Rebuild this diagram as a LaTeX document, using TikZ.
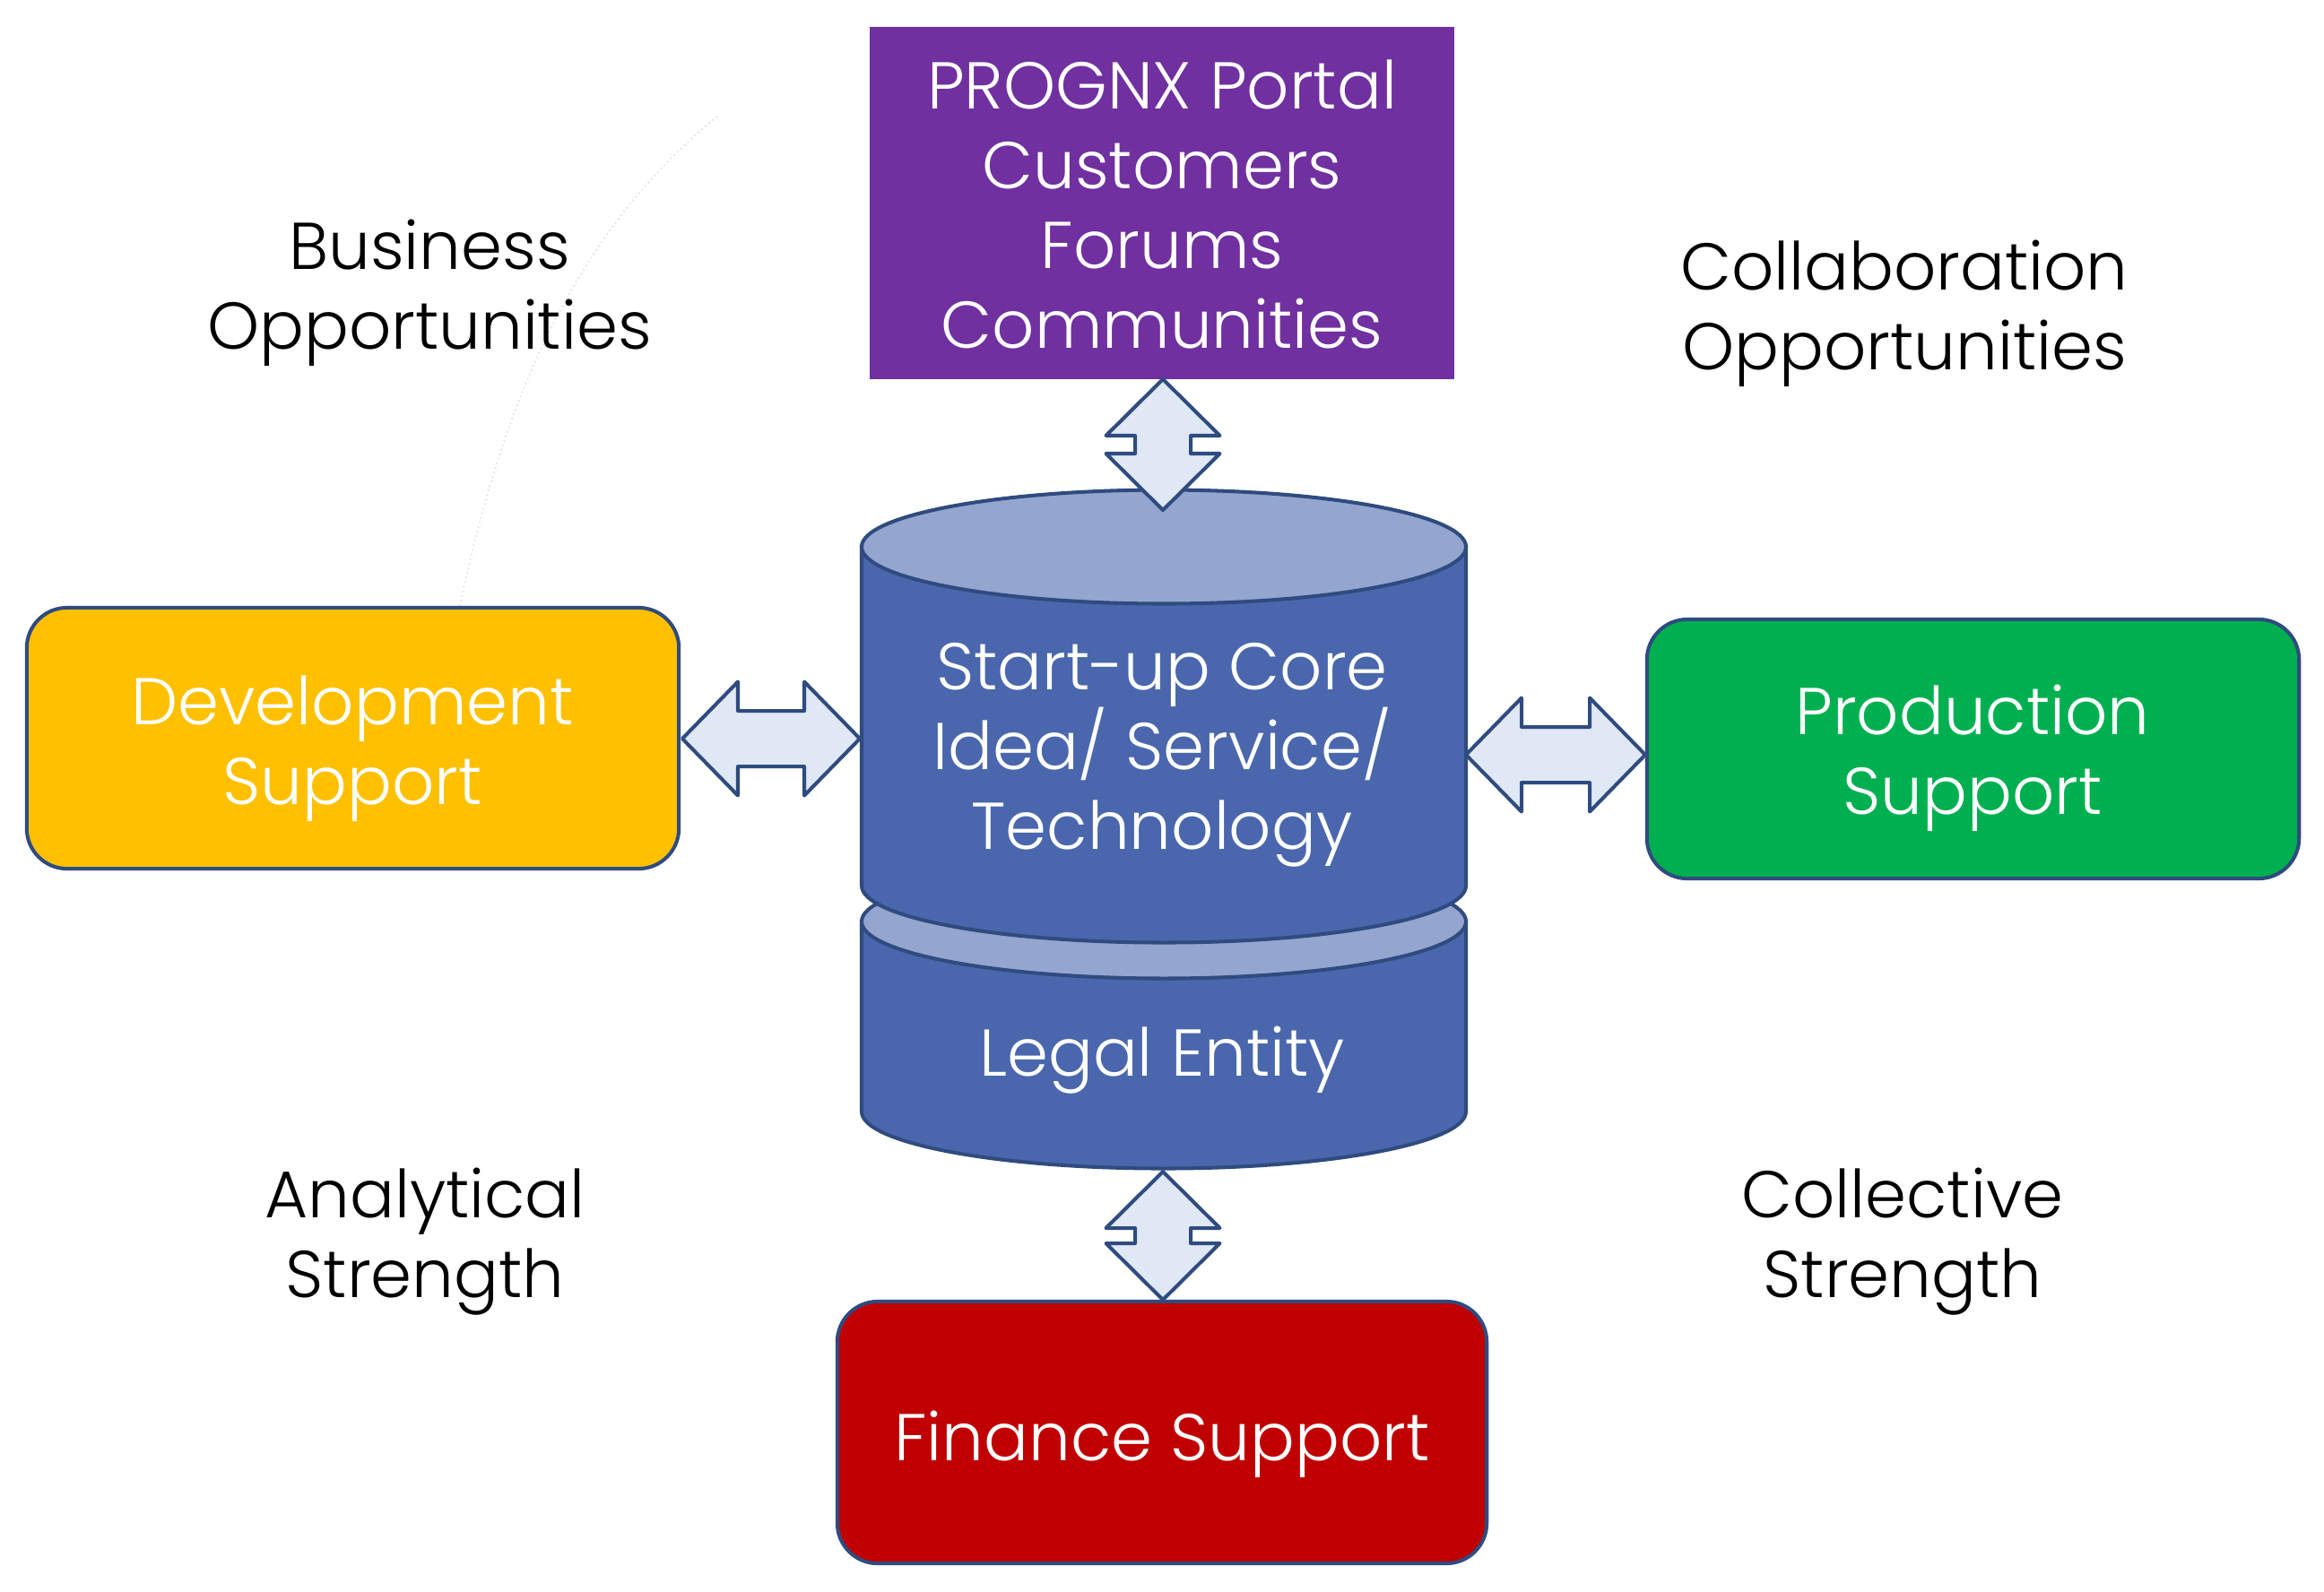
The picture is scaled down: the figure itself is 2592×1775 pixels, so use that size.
\documentclass[tikz,border=0pt]{standalone}
\usepackage{fontspec}
\setmainfont{Poppins}[UprightFont={* Light}]
\definecolor{bordc}{HTML}{2F4B7F}
\definecolor{cylbodyc}{HTML}{4A67AD}
\definecolor{cyltopc}{HTML}{94A5CF}
\definecolor{arrfill}{HTML}{DFE8F4}
\definecolor{purplec}{HTML}{7030A0}
\definecolor{yellowc}{HTML}{FFC000}
\definecolor{greenc}{HTML}{00B050}
\definecolor{redc}{HTML}{C00000}
\newcommand\vdblarrow[3]{%
\draw[blockarrow] (#1,#2) -- ({#1+63.5},{#2+63}) -- ({#1+31},{#2+63}) -- ({#1+31},{#3-63}) -- ({#1+63.5},{#3-63}) -- (#1,#3) -- ({#1-63.5},{#3-63}) -- ({#1-31},{#3-63}) -- ({#1-31},{#2+63}) -- ({#1-63.5},{#2+63}) -- cycle;}
\newcommand\hdblarrow[3]{%
\draw[blockarrow] (#2,#1) -- ({#2+62},{#1-63.5}) -- ({#2+62},{#1-31}) -- ({#3-62},{#1-31}) -- ({#3-62},{#1-63.5}) -- (#3,#1) -- ({#3-62},{#1+63.5}) -- ({#3-62},{#1+31}) -- ({#2+62},{#1+31}) -- ({#2+62},{#1+63.5}) -- cycle;}
\newcommand\mycyl[5]{%
\draw[cylbody] ({#1-#4},#2) -- ({#1-#4},#3) .. controls ({#1-#4},{#3+0.5523*#5}) and ({#1-0.5523*#4},{#3+#5}) .. (#1,{#3+#5}) .. controls ({#1+0.5523*#4},{#3+#5}) and ({#1+#4},{#3+0.5523*#5}) .. ({#1+#4},#3) -- ({#1+#4},#2) -- cycle;
\draw[cyltop] (#1,#2) ellipse [x radius=#4, y radius=#5];}
\begin{document}
\begin{tikzpicture}[x=0.01cm,y=-0.01cm,
  bigtext/.style={font=\fontsize{21}{25.3}\selectfont, align=center, inner sep=0pt},
  whitetext/.style={bigtext, text=white},
  box/.style={draw=bordc, line width=1.15pt, rounded corners=0.45cm, inner sep=0pt},
  blockarrow/.style={draw=bordc, fill=arrfill, line width=1.15pt, line join=round},
  cylbody/.style={draw=bordc, fill=cylbodyc, line width=1.15pt},
  cyltop/.style={draw=bordc, fill=cyltopc, line width=1.15pt}]
\useasboundingbox (0,0) rectangle (2592,1775);
\fill[white] (0,0) rectangle (2592,1775);
% faint curve
\draw[black!10, line width=0.5pt, densely dotted] (513,676) .. controls (560,450) and (640,260) .. (800,130);
% boxes
\node[fill=purplec, minimum width=6.52cm, minimum height=3.93cm, inner sep=0pt] (portal) at (1296,226.5) {};
\node[whitetext] (portaltext) at (1296,228) {PROGNX Portal\\Customers\\Forums\\Communities};
\node[box, fill=yellowc, minimum width=7.27cm, minimum height=2.91cm] (dev) at (393.5,823.5) {};
\node[whitetext] (devtext) at (393,835) {Development\\Support};
\node[box, fill=greenc, minimum width=7.27cm, minimum height=2.89cm] (prod) at (2200.5,835.5) {};
\node[whitetext] (prodtext) at (2200,846) {Production\\Support};
\node[box, fill=redc, minimum width=7.24cm, minimum height=2.92cm] (fin) at (1296,1598) {};
\node[whitetext] (fintext) at (1296,1611) {Finance Support};
% cylinders
\mycyl{1298}{1028}{1240}{337}{63.5}
\mycyl{1298}{610}{988}{337}{63.5}
\node[whitetext] (core) at (1296,842) {Start-up Core\\Idea/ Service/\\Technology};
\node[whitetext] (legal) at (1296,1183) {Legal Entity};
% block arrows
\vdblarrow{1297}{423}{569}
\vdblarrow{1297}{1307}{1450}
\hdblarrow{824}{761}{959}
\hdblarrow{842}{1635}{1835}
% labels
\node[bigtext] (busopp) at (479,327) {Business\\Opportunities};
\node[bigtext] (colopp) at (2124,350) {Collaboration\\Opportunities};
\node[bigtext] (anastr) at (474,1385) {Analytical\\Strength};
\node[bigtext] (colstr) at (2122,1385) {Collective\\Strength};
\end{tikzpicture}
\end{document}
